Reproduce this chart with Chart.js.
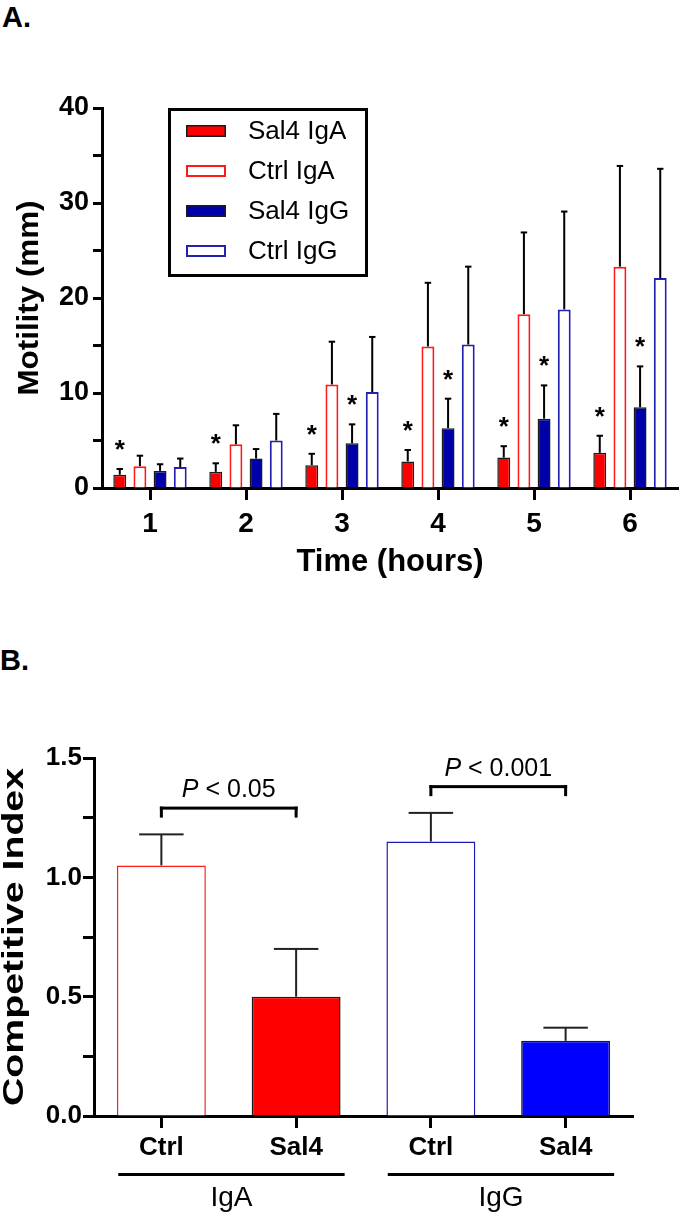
<!DOCTYPE html>
<html>
<head>
<meta charset="utf-8">
<script src="https://cdn.jsdelivr.net/npm/chart.js@4.4.1/dist/chart.umd.min.js"></script>
<style>
	body { margin: 0; background: #fff; }
	canvas { display: block; }
	#wrap { position: relative; width: 679px; height: 1214px; }
	.panel { position: absolute; left: 0; font: bold 29px Arial, "Liberation Sans", sans-serif; }
</style>
</head>
<body>
<div id="wrap">
	<div class="panel" style="top:1px;left:2px;">A.</div>
	<div class="panel" style="top:644px;left:0px;">B.</div>
	<canvas id="motilityChart" width="679" height="600" style="position:absolute;top:0;left:0;"></canvas>
	<canvas id="ciChart" width="679" height="614" style="position:absolute;top:600px;left:0;"></canvas>
</div>
<script>
// Panel A: motility over time (mean + SD)
const hours = ["1", "2", "3", "4", "5", "6"];
const sal4IgA = [1.4, 1.7, 2.4, 2.8, 3.2, 3.7];
const sal4IgASd = [0.6, 0.9, 1.2, 1.2, 1.2, 1.8];
const ctrlIgA = [2.3, 4.6, 10.9, 14.9, 18.3, 23.3];
const ctrlIgASd = [1.1, 2.0, 4.5, 6.7, 8.6, 10.6];
const sal4IgG = [1.8, 3.1, 4.7, 6.3, 7.3, 8.5];
const sal4IgGSd = [0.7, 1.0, 2.0, 3.1, 3.5, 4.3];
const ctrlIgG = [2.2, 5.0, 10.1, 15.1, 18.8, 22.1];
const ctrlIgGSd = [0.9, 2.8, 5.8, 8.2, 10.3, 11.5];
const sal4IgAStars = [true, true, true, true, true, true];
const sal4IgGStars = [false, false, true, true, true, true];

// Panel B: competitive index
const ciLabels = ["Ctrl", "Sal4", "Ctrl", "Sal4"];
const ciValues = [1.05, 0.5, 1.15, 0.315];
const ciSd = [0.13, 0.2, 0.12, 0.055];
const ciGroups = ["IgA", "IgG"];
const bracketPairs = [[0, 1], [2, 3]];
const bracketLevels = [1.29, 1.38];
const bracketTexts = [" < 0.05", " < 0.001"];

const FONT = 'Arial, "Liberation Sans", sans-serif';
Chart.defaults.font.family = FONT;
Chart.defaults.color = "#000";

// thick black axis lines and outward tick marks, Prism style
function prismGrid(tickLength, offset) {
	return { display: true, drawOnChartArea: false, drawTicks: true, tickLength: tickLength, tickWidth: 3, tickColor: "#000", offset: offset };
}
const prismBorder = { display: true, color: "#000", width: 3 };

// one-sided error bars (+ asterisks where given)
function makeErrorBars(id, cap, width, color) {
	return {
		id: id,
		afterDatasetsDraw(chart) {
			const ctx = chart.ctx;
			const y = chart.scales.y;
			ctx.save();
			chart.data.datasets.forEach((ds, di) => {
				const meta = chart.getDatasetMeta(di);
				meta.data.forEach((bar, i) => {
					const top = y.getPixelForValue(ds.data[i] + ds.errors[i]);
					const half = bar.width * cap;
					ctx.fillStyle = color;
					ctx.fillRect(bar.x - width / 2, top, width, bar.y - top);
					ctx.fillRect(bar.x - half, top - width / 2, half * 2, width);
					if (ds.stars && ds.stars[i]) {
						ctx.fillStyle = "#000";
						ctx.font = "bold 26px " + FONT;
						ctx.textAlign = "center";
						ctx.fillText("*", bar.x, top - 11);
					}
				});
			});
			ctx.restore();
		},
	};
}

// rotated y title, stretched along its length like the original figure
function drawYTitle(chart, text, size, cx, length) {
	const ctx = chart.ctx;
	const area = chart.chartArea;
	ctx.save();
	ctx.font = "bold " + size + "px " + FONT;
	const w = ctx.measureText(text).width;
	ctx.translate(cx, (area.top + area.bottom) / 2);
	ctx.rotate(-Math.PI / 2);
	ctx.scale(length / w, 1);
	ctx.fillStyle = "#000";
	ctx.textAlign = "center";
	ctx.textBaseline = "middle";
	ctx.fillText(text, 0, 0);
	ctx.restore();
}

// legend box inside the plot area
function drawBoxLegend(chart) {
	const ctx = chart.ctx;
	ctx.save();
	ctx.fillStyle = "#000";
	ctx.fillRect(168, 108, 200, 3);
	ctx.fillRect(168, 274, 200, 3);
	ctx.fillRect(168, 108, 3, 169);
	ctx.fillRect(365, 108, 3, 169);
	chart.data.datasets.forEach((ds, i) => {
		const cy = 131 + i * 40;
		const bw = ds.borderWidth;
		ctx.fillStyle = ds.borderColor;
		ctx.fillRect(186, cy - 6, 40, 12);
		ctx.fillStyle = ds.backgroundColor;
		ctx.fillRect(186 + bw, cy - 6 + bw, 40 - 2 * bw, 12 - 2 * bw);
		ctx.fillStyle = "#000";
		ctx.font = "26px " + FONT;
		ctx.textAlign = "left";
		ctx.textBaseline = "middle";
		ctx.fillText(ds.label, 248, cy + 1);
	});
	ctx.restore();
}

const motilityDecor = {
	id: "motilityDecor",
	afterDraw(chart) {
		drawBoxLegend(chart);
		drawYTitle(chart, "Motility (mm)", 29, 30, 195);
	},
};

new Chart(document.getElementById("motilityChart"), {
	type: "bar",
	data: {
		labels: hours,
		datasets: [
			{ label: "Sal4 IgA", data: sal4IgA, errors: sal4IgASd, stars: sal4IgAStars, backgroundColor: "#ff0000", borderColor: "#1a1a1a", borderWidth: 1.5 },
			{ label: "Ctrl IgA", data: ctrlIgA, errors: ctrlIgASd, backgroundColor: "#ffffff", borderColor: "#ff1a1a", borderWidth: 2 },
			{ label: "Sal4 IgG", data: sal4IgG, errors: sal4IgGSd, stars: sal4IgGStars, backgroundColor: "#0000a8", borderColor: "#1a1a1a", borderWidth: 1.5 },
			{ label: "Ctrl IgG", data: ctrlIgG, errors: ctrlIgGSd, backgroundColor: "#ffffff", borderColor: "#2222b0", borderWidth: 2 },
		],
	},
	options: {
		responsive: false,
		animation: false,
		devicePixelRatio: 1,
		layout: { padding: { top: 108, right: 1, left: 0, bottom: 0 } },
		datasets: { bar: { categoryPercentage: 0.84, barPercentage: 0.64, borderSkipped: "bottom" } },
		plugins: {
			legend: { display: false },
			tooltip: { enabled: false },
		},
		scales: {
			x: {
				afterFit: (s) => { s.height = 112; },
				grid: prismGrid(12, false),
				border: prismBorder,
				ticks: { padding: 7, font: { size: 28, weight: "bold" } },
				title: { display: true, text: "Time (hours)", font: { size: 31, weight: "bold", lineHeight: 1 }, padding: { top: 0, bottom: 22 } },
			},
			y: {
				min: 0,
				max: 40,
				afterFit: (s) => { s.width = 102; },
				grid: prismGrid(9, false),
				border: prismBorder,
				ticks: { stepSize: 5, padding: 4, font: { size: 27, weight: "bold" }, callback: (v) => (v % 10 === 0 ? v : "") },
			},
		},
	},
	plugins: [makeErrorBars("errA", 0.25, 2, "#000"), motilityDecor],
});

// significance brackets, group labels and title for panel B
const ciDecor = {
	id: "ciDecor",
	afterDraw(chart) {
		const ctx = chart.ctx;
		const area = chart.chartArea;
		const x = chart.scales.x, y = chart.scales.y;
		const catW = x.getPixelForTick(1) - x.getPixelForTick(0);
		ctx.save();
		ctx.fillStyle = "#000";
		bracketPairs.forEach((pair, k) => {
			const x1 = x.getPixelForTick(pair[0]);
			const x2 = x.getPixelForTick(pair[1]);
			const py = y.getPixelForValue(bracketLevels[k]);
			ctx.fillRect(x1 - 1.5, py - 1.5, x2 - x1 + 3, 3);
			ctx.fillRect(x1 - 1.5, py - 1.5, 3, 11);
			ctx.fillRect(x2 - 1.5, py - 1.5, 3, 11);
			ctx.textBaseline = "alphabetic";
			ctx.textAlign = "left";
			ctx.font = "italic 25px " + FONT;
			const wp = ctx.measureText("P").width;
			ctx.font = "25px " + FONT;
			const wr = ctx.measureText(bracketTexts[k]).width;
			const sx = (x1 + x2) / 2 - (wp + wr) / 2;
			ctx.font = "italic 25px " + FONT;
			ctx.fillText("P", sx, py - 11);
			ctx.font = "25px " + FONT;
			ctx.fillText(bracketTexts[k], sx + wp, py - 11);
		});
		ciGroups.forEach((g, k) => {
			const a = x.getPixelForTick(k * 2) - catW * 0.32;
			const b = x.getPixelForTick(k * 2 + 1) + catW * 0.36;
			ctx.fillRect(a, area.bottom + 57, b - a, 3);
			ctx.font = "28px " + FONT;
			ctx.textAlign = "center";
			ctx.textBaseline = "middle";
			ctx.fillText(g, (a + b) / 2, area.bottom + 82);
		});
		ctx.restore();
		drawYTitle(chart, "Competitive Index", 29, 15, 338);
	},
};

new Chart(document.getElementById("ciChart"), {
	type: "bar",
	data: {
		labels: ciLabels,
		datasets: [
			{
				label: "Competitive Index",
				data: ciValues,
				errors: ciSd,
				backgroundColor: ["#ffffff", "#ff0000", "#ffffff", "#0000ff"],
				borderColor: ["#ff1a1a", "#1a1a1a", "#1c1cb0", "#1a1a1a"],
				borderWidth: 1.5,
				borderSkipped: "bottom",
				categoryPercentage: 1,
				barPercentage: 0.66,
			},
		],
	},
	options: {
		responsive: false,
		animation: false,
		devicePixelRatio: 1,
		layout: { padding: { top: 158, right: 46, left: 0, bottom: 0 } },
		plugins: {
			legend: { display: false },
			tooltip: { enabled: false },
		},
		scales: {
			x: {
				afterFit: (s) => { s.height = 98; },
				grid: prismGrid(12, false),
				border: prismBorder,
				ticks: { padding: 4, font: { size: 26, weight: "bold" } },
			},
			y: {
				min: 0,
				max: 1.5,
				afterFit: (s) => { s.width = 94; },
				grid: prismGrid(11, false),
				border: prismBorder,
				ticks: { stepSize: 0.25, padding: 1, font: { size: 26, weight: "bold" }, callback: (v) => (Math.round(v * 100) % 50 === 0 ? v.toFixed(1) : "") },
			},
		},
	},
	plugins: [makeErrorBars("errB", 0.25, 2, "#222"), ciDecor],
});
</script>
</body>
</html>
